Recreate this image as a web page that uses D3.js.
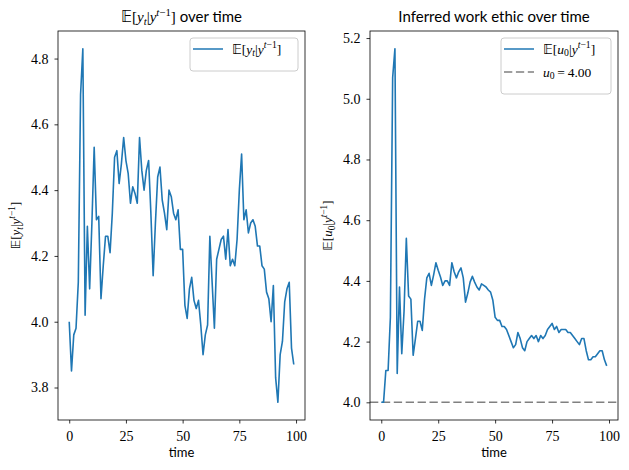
<!DOCTYPE html>
<html>
<head>
<meta charset="utf-8">
<script src="https://cdn.jsdelivr.net/npm/d3@7"></script>
<style>
body { margin: 0; background: #fff; }
</style>
</head>
<body>
<svg id="fig" width="629" height="470"></svg>
<script>
// values
const steps = d3.range(100);
const predictedY = [
	4.00, 3.85, 3.96, 3.98, 4.12, 4.69, 4.83, 4.02, 4.29, 4.10,
	4.30, 4.53, 4.31, 4.32, 4.07, 4.17, 4.26, 4.26, 4.21, 4.33,
	4.50, 4.52, 4.42, 4.48, 4.56, 4.49, 4.45, 4.36, 4.41, 4.39,
	4.36, 4.56, 4.46, 4.40, 4.46, 4.49, 4.33, 4.14, 4.30, 4.44,
	4.47, 4.37, 4.33, 4.28, 4.40, 4.38, 4.33, 4.31, 4.34, 4.22,
	4.22, 4.05, 4.01, 4.10, 4.135, 4.065, 4.04, 4.065, 3.99, 3.90,
	3.96, 3.99, 4.26, 4.12, 3.98, 4.19, 4.22, 4.25, 4.26, 4.19,
	4.28, 4.17, 4.19, 4.17, 4.25, 4.40, 4.51, 4.31, 4.34, 4.27,
	4.30, 4.31, 4.29, 4.23, 4.23, 4.17, 4.16, 4.09, 4.07, 4.00,
	4.11, 3.83, 3.755, 3.90, 3.94, 4.06, 4.10, 4.12, 3.92, 3.87
];
const inferredU0 = [
	4.00, 4.00, 4.105, 4.105, 4.28, 5.07, 5.165, 4.095, 4.38, 4.16,
	4.30, 4.54, 4.35, 4.34, 4.155, 4.21, 4.267, 4.267, 4.237, 4.34,
	4.41, 4.425, 4.385, 4.42, 4.46, 4.435, 4.413, 4.385, 4.40, 4.40,
	4.385, 4.46, 4.43, 4.41, 4.43, 4.443, 4.41, 4.33, 4.36, 4.396,
	4.415, 4.396, 4.38, 4.37, 4.39, 4.385, 4.38, 4.37, 4.363, 4.336,
	4.28, 4.27, 4.27, 4.25, 4.25, 4.24, 4.22, 4.20, 4.18, 4.19,
	4.23, 4.21, 4.18, 4.17, 4.20, 4.21, 4.22, 4.21, 4.22, 4.20,
	4.22, 4.21, 4.22, 4.24, 4.25, 4.26, 4.24, 4.25, 4.23, 4.24,
	4.24, 4.24, 4.23, 4.23, 4.22, 4.21, 4.20, 4.19, 4.21, 4.21,
	4.17, 4.14, 4.14, 4.15, 4.15, 4.16, 4.17, 4.17, 4.14, 4.12
];
const trueU0 = 4.0;
const xTicks = [0, 25, 50, 75, 100];
const leftYTicks = [3.8, 4.0, 4.2, 4.4, 4.6, 4.8];
const rightYTicks = [4.0, 4.2, 4.4, 4.6, 4.8, 5.0, 5.2];

const BLUE = '#1f77b4';
const SERIF = '"Liberation Serif", "DejaVu Serif", serif';
const SANS = 'Lato, "DejaVu Sans", sans-serif';
const BB = '"DejaVu Sans", sans-serif';
const DASH = '8.3,3.6';

const svg = d3.select('#fig');

// math-ish label: parts are [text, kind] where kind may hold i, sub, sup, bb, sans
function addMath(sel, parts, size) {
	const t = sel.append('text').attr('font-size', size);
	let shift = 0;
	parts.forEach(([s, kind]) => {
		const k = kind.split(' ');
		const target = k.includes('sub') ? size * 0.22 : k.includes('sup') ? -size * 0.38 : 0;
		const ts = t.append('tspan').text(s).attr('dy', target - shift);
		shift = target;
		if (k.includes('sub') || k.includes('sup')) { ts.attr('font-size', size * 0.72); }
		if (k.includes('bb')) {
			ts.attr('font-family', BB);
		} else if (k.includes('sans')) {
			ts.attr('font-family', SANS);
		} else {
			ts.attr('font-family', SERIF);
		}
		if (k.includes('i')) { ts.attr('font-style', 'italic'); }
	});
	return t;
}

const yLabelParts = [['𝔼', 'bb'], ['[', ''], ['y', 'i'], ['t', 'i sub'], ['|', ''], ['y', 'i'], ['t', 'i sup'], ['−1', 'sup'], [']', '']];
const uLabelParts = [['𝔼', 'bb'], ['[', ''], ['u', 'i'], ['0', 'sub'], ['|', ''], ['y', 'i'], ['t', 'i sup'], ['−1', 'sup'], [']', '']];
const trueLabelParts = [['u', 'i'], ['0', 'sub'], ['\u2009=\u20094.00', '']];

function drawPanel(box, values, yTicks, opts) {
	const x = d3.scaleLinear().domain([-4.95, 103.95]).range([box.x0, box.x1]);
	let [lo, hi] = d3.extent(values.concat(opts.refLine !== undefined ? [opts.refLine] : []));
	const pad = (hi - lo) * 0.05;
	const y = d3.scaleLinear().domain([lo - pad, hi + pad]).range([box.y1, box.y0]);

	const g = svg.append('g');

	if (opts.refLine !== undefined) {
		g.append('line')
			.attr('x1', box.x0).attr('x2', box.x1)
			.attr('y1', y(opts.refLine)).attr('y2', y(opts.refLine))
			.attr('stroke', 'gray').attr('stroke-width', 1.5)
			.attr('stroke-dasharray', DASH);
	}

	g.append('path')
		.datum(values)
		.attr('d', d3.line().x((d, i) => x(steps[i])).y(d => y(d)))
		.attr('fill', 'none')
		.attr('stroke', BLUE)
		.attr('stroke-width', 1.6)
		.attr('stroke-linejoin', 'round');

	const xAxis = g.append('g')
		.attr('transform', `translate(0,${box.y1})`)
		.call(d3.axisBottom(x).tickValues(xTicks).tickSize(3.5).tickPadding(5).tickFormat(d3.format('d')));
	const yAxis = g.append('g')
		.attr('transform', `translate(${box.x0},0)`)
		.call(d3.axisLeft(y).tickValues(yTicks).tickSize(3.5).tickPadding(6).tickFormat(d3.format('.1f')));
	[xAxis, yAxis].forEach(a => {
		a.select('.domain').remove();
		a.selectAll('.tick line').attr('stroke', '#000').attr('stroke-width', 0.8);
		a.selectAll('.tick text').attr('font-family', SERIF).attr('font-size', 14).attr('fill', '#000');
	});
	xAxis.selectAll('.tick text').attr('dy', '0.9em');

	g.append('rect')
		.attr('x', box.x0).attr('y', box.y0)
		.attr('width', box.x1 - box.x0).attr('height', box.y1 - box.y0)
		.attr('fill', 'none').attr('stroke', '#000').attr('stroke-width', 0.8);

	const cx = (box.x0 + box.x1) / 2;

	addMath(g, opts.titleParts, 15)
		.attr('x', cx).attr('y', 22).attr('text-anchor', 'middle');

	g.append('text')
		.attr('x', cx).attr('y', 457)
		.attr('text-anchor', 'middle')
		.attr('font-family', SANS).attr('font-size', 13)
		.text('time');

	addMath(g, opts.yLabelParts, 13)
		.attr('text-anchor', 'middle')
		.attr('transform', `translate(${opts.yLabelX},${(box.y0 + box.y1) / 2}) rotate(-90)`);

	// legend, upper right corner
	const entries = opts.legend;
	const legW = opts.legendWidth;
	const legH = 10 + entries.length * 23;
	const lx = box.x1 - 7 - legW;
	const ly = box.y0 + 7;
	const leg = g.append('g').attr('transform', `translate(${lx},${ly})`);
	leg.append('rect')
		.attr('width', legW).attr('height', legH)
		.attr('rx', 3)
		.attr('fill', '#fff').attr('fill-opacity', 0.8)
		.attr('stroke', '#ccc').attr('stroke-width', 1);
	entries.forEach((e, i) => {
		const yy = 11 + i * 23;
		leg.append('line')
			.attr('x1', 3).attr('x2', 33)
			.attr('y1', yy).attr('y2', yy)
			.attr('stroke', e.color).attr('stroke-width', 1.5)
			.attr('stroke-dasharray', e.dash ? DASH : null);
		addMath(leg, e.parts, 13.5)
			.attr('x', 42).attr('y', yy + 4.5);
	});
}

drawPanel({x0: 58, x1: 305, y0: 31, y1: 420}, predictedY, leftYTicks, {
	titleParts: yLabelParts.concat([[' over time', 'sans']]),
	yLabelParts: yLabelParts,
	yLabelX: 20,
	legendWidth: 108,
	legend: [{parts: yLabelParts, color: BLUE}]
});

drawPanel({x0: 370, x1: 618, y0: 31, y1: 420}, inferredU0, rightYTicks, {
	refLine: trueU0,
	titleParts: [['Inferred work ethic over time', 'sans']],
	yLabelParts: uLabelParts,
	yLabelX: 332,
	legendWidth: 110,
	legend: [
		{parts: uLabelParts, color: BLUE},
		{parts: trueLabelParts, color: 'gray', dash: true}
	]
});
</script>
</body>
</html>
